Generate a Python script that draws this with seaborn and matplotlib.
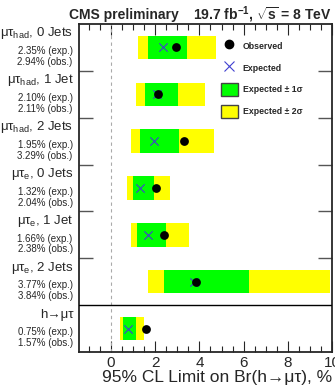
import numpy as np
import pandas as pd
import matplotlib
matplotlib.use("Agg")
import matplotlib.pyplot as plt
from matplotlib.lines import Line2D
from matplotlib.patches import Patch
from matplotlib.transforms import blended_transform_factory
import seaborn as sns

# Channels and limits (in %)
channels = ["μτ$_{\\mathrm{had}}$, 0 Jets", "μτ$_{\\mathrm{had}}$, 1 Jet",
            "μτ$_{\\mathrm{had}}$, 2 Jets", "μτ$_{\\mathrm{e}}$, 0 Jets",
            "μτ$_{\\mathrm{e}}$, 1 Jet", "μτ$_{\\mathrm{e}}$, 2 Jets",
            "h→μτ"]
expected = [2.35, 2.10, 1.95, 1.32, 1.66, 3.77, 0.75]
observed = [2.94, 2.11, 3.29, 2.04, 2.38, 3.84, 1.57]
minus2s = [1.24, 1.14, 0.91, 0.73, 0.88, 1.65, 0.41]
minus1s = [1.67, 1.52, 1.32, 0.97, 1.18, 2.38, 0.56]
plus1s = [3.45, 3.03, 3.09, 1.95, 2.50, 6.24, 1.12]
plus2s = [4.77, 4.24, 4.65, 2.68, 3.51, 9.90, 1.51]
xtick_labels = ["0", "2", "4", "6", "8", "10"]

df = pd.DataFrame({
    "channel": channels, "row": np.arange(len(channels)),
    "expected": expected, "observed": observed,
    "lo2": minus2s, "lo1": minus1s, "hi1": plus1s, "hi2": plus2s,
})

sns.set_style("ticks")
plt.rcParams["font.family"] = ["Liberation Sans", "DejaVu Sans"]
plt.rcParams["mathtext.fontset"] = "custom"
plt.rcParams["mathtext.rm"] = "Liberation Sans"
plt.rcParams["mathtext.it"] = "Liberation Sans:italic"
plt.rcParams["mathtext.bf"] = "Liberation Sans:bold"

GREEN = "#00ff00"
YELLOW = "#ffff00"
BLUE = "#4040d0"

fig = plt.figure(figsize=(3.35, 3.91), dpi=100)
ax = fig.add_axes([0.236, 0.0997, 0.755, 0.8389])

# Expected bands
ax.barh(df["row"], df["hi2"] - df["lo2"], left=df["lo2"], height=0.5,
        color=YELLOW, linewidth=0, zorder=2)
ax.barh(df["row"], df["hi1"] - df["lo1"], left=df["lo1"], height=0.5,
        color=GREEN, linewidth=0, zorder=3)

sns.scatterplot(data=df, x="expected", y="row", marker="x", color=BLUE,
                s=36, linewidth=0.8, ax=ax, zorder=4, legend=False)
sns.scatterplot(data=df, x="observed", y="row", marker="o", color="black",
                s=40, edgecolor="black", linewidth=0, ax=ax, zorder=5, legend=False)

ax.axvline(0, color="#aaaaaa", lw=0.8, ls=(0, (3, 3)), zorder=1)
ax.axhline(5.5, color="black", lw=1.0, zorder=6)

ax.set_xlim(-1.45, 10)
ax.set_ylim(6.5, -0.5)

# Axis ticks, drawn inward on all sides
ax.set_xticks(np.arange(0, 11, 2))
ax.set_xticklabels(xtick_labels, fontsize=11)
ax.set_xticks(np.arange(-1, 10.01, 0.5), minor=True)
ax.tick_params(axis="x", which="major", direction="in", length=8, width=0.8,
               top=True, bottom=True, pad=3)
ax.tick_params(axis="x", which="minor", direction="in", length=4, width=0.8,
               top=True, bottom=True)
ax.set_yticks([0.5, 1.5, 2.5, 3.5, 4.5])
ax.set_yticklabels([])
ax.tick_params(axis="y", which="major", direction="in", length=10, width=1.0,
               left=True, right=True, color="#555555")
ax.set_ylabel("")
ax.set_xlabel("95% CL Limit on Br(h→μτ), %", fontsize=12.5,
              loc="right", labelpad=0)
for sp in ax.spines.values():
    sp.set_linewidth(1.3)

# Channel labels with the expected / observed limits
trans = blended_transform_factory(ax.transAxes, ax.transData)
for r, (name, e, o) in enumerate(zip(channels, expected, observed)):
    ax.text(-0.022, r - 0.30, name, transform=trans, ha="right", va="center",
            fontsize=9.5)
    ax.text(-0.025, r + 0.08, f"{e:.2f}% (exp.)", transform=trans, ha="right",
            va="center", fontsize=7)
    ax.text(-0.025, r + 0.31, f"{o:.2f}% (obs.)", transform=trans, ha="right",
            va="center", fontsize=7)

# Header
fig.text(69 / 335, 1 - 15 / 391, "CMS preliminary", ha="left", va="center",
         fontsize=10, fontweight="bold")
fig.text(332 / 335, 1 - 15 / 391, r"19.7 fb$^{\mathbf{-1}}$, $\sqrt{\mathbf{s}}$ = 8 TeV",
         ha="right", va="center", fontsize=10, fontweight="bold")

handles = [
    Line2D([], [], marker="o", color="black", ls="none", markersize=6),
    Line2D([], [], marker="x", color=BLUE, ls="none", markersize=6.5, mew=0.8),
    Patch(facecolor=GREEN, edgecolor="#444444", linewidth=1.0),
    Patch(facecolor=YELLOW, edgecolor="#444444", linewidth=1.0),
]
labels = ["Observed", "Expected", "Expected ± 1σ", "Expected ± 2σ"]
ax.legend(handles, labels, loc="upper left", bbox_to_anchor=(0.56, 0.952),
          frameon=False, borderpad=0, handlelength=2.0, handleheight=1.9,
          handletextpad=0.5, labelspacing=1.0, borderaxespad=0,
          prop={"size": 6.3, "weight": "bold"})

fig.savefig("out.png", dpi=100)
